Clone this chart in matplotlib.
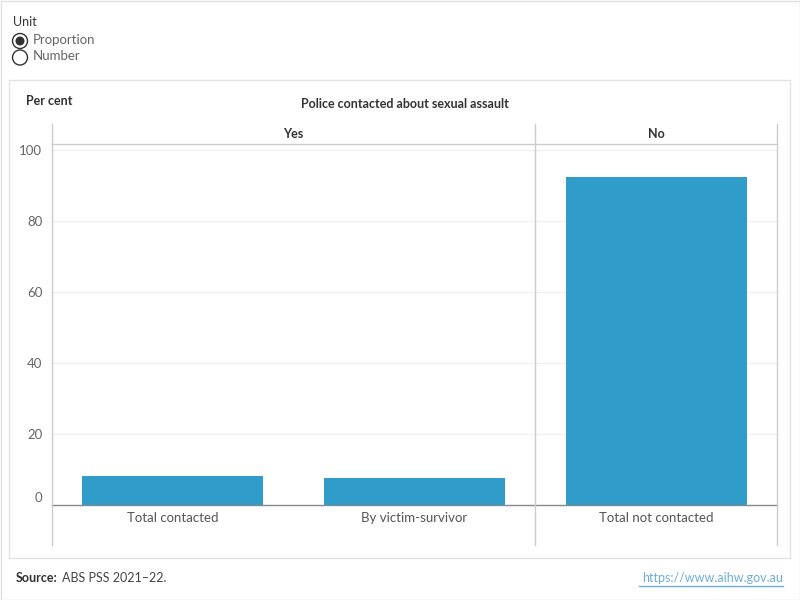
import matplotlib
matplotlib.use("Agg")
import matplotlib.pyplot as plt
import matplotlib.transforms as mtransforms
from matplotlib.lines import Line2D
from matplotlib.patches import Rectangle, Circle

categories = ["Total contacted", "By victim-survivor", "Total not contacted"]
groups = ["Yes", "No"]
group_sizes = [2, 1]
values = [8.2, 7.7, 92.4]
yticks = [0, 20, 40, 60, 80, 100]

W, H = 800, 600
plt.rcParams['font.family'] = ['Lato', 'DejaVu Sans']
fig = plt.figure(figsize=(8, 6), dpi=100)

def fx(px):
    return px / W

def fy(py):
    return 1 - py / H

# outer frame
fig.add_artist(Rectangle((fx(0.5), fy(599.5)), fx(799), 599 / H, transform=fig.transFigure,
                         fill=False, edgecolor="#e0e0e0", lw=1))
# inner panel
fig.add_artist(Rectangle((fx(9), fy(558)), fx(781), 478 / H, transform=fig.transFigure,
                         fill=False, edgecolor="#e3e3e3", lw=1))

# Unit selector
fig.text(fx(13), fy(22), "Unit", fontsize=9, color="#333333", va="center", ha="left")
for i, lab in enumerate(["Proportion", "Number"]):
    cy = 41 + i * 16.5
    fig.add_artist(Circle((20 / 100, (H - cy) / 100), 0.075, transform=fig.dpi_scale_trans,
                          fill=False, edgecolor="#333333", lw=1))
    if i == 0:
        fig.add_artist(Circle((20 / 100, (H - cy) / 100), 0.045, transform=fig.dpi_scale_trans,
                              facecolor="#333333", edgecolor="none"))
    fig.text(fx(33), fy(cy - 1), lab, fontsize=9.5, color="#666666", va="center", ha="left")

# Axes
left, right, top, bottom = 52, 777, 144, 505
ax = fig.add_axes([fx(left), fy(bottom), fx(right - left), (bottom - top) / H])
x = list(range(len(categories)))
ax.bar(x, values, width=0.75, color="#309cca", zorder=3)
px_per_unit = 355.0 / 100
ymax = (bottom - top) / px_per_unit
ax.set_ylim(0, ymax)
ax.set_xlim(-0.5, len(categories) - 0.5)
ax.set_yticks(yticks)
ax.set_yticklabels([str(t) for t in yticks], fontsize=9.5, color="#666666")
ax.set_xticks([])
ax.tick_params(axis="y", length=0, pad=7)
# Tableau nudges the bottom label up
lbl0 = ax.get_yticklabels()[0]
lbl0.set_transform(lbl0.get_transform() + mtransforms.ScaledTranslation(0, 8 / 100, fig.dpi_scale_trans))
for t in yticks[1:]:
    ax.axhline(t, color="#f0f0f0", lw=1, zorder=1)
for s in ["top", "right", "left"]:
    ax.spines[s].set_visible(False)
ax.spines["bottom"].set_color("#888888")
ax.spines["bottom"].set_linewidth(1)
for i, c in enumerate(categories):
    ax.text(i, -3.6, c, ha="center", va="center", fontsize=9.5, color="#555555")

def vline(px, y0, y1, color="#cccccc"):
    fig.add_artist(Line2D([fx(px), fx(px)], [fy(y0), fy(y1)], transform=fig.transFigure,
                          color=color, lw=1))

def hline(py, x0, x1, color="#cccccc"):
    fig.add_artist(Line2D([fx(x0), fx(x1)], [fy(py), fy(py)], transform=fig.transFigure,
                          color=color, lw=1))

vline(left, 124, 545)
cat_w = (right - left) / len(categories)
pos = left
group_edges = [left]
for g in group_sizes:
    pos += g * cat_w
    group_edges.append(pos)
    vline(pos, 124, 545)
hline(top, left, right)

for gi, g in enumerate(groups):
    cx = (group_edges[gi] + group_edges[gi + 1]) / 2
    fig.text(fx(cx), fy(134), g, ha="center", va="center", fontsize=9,
             fontweight="bold", color="#333333")

fig.text(fx(405), fy(104), "Police contacted about sexual assault", ha="center", va="center",
         fontsize=9, fontweight="bold", color="#333333")
fig.text(fx(26), fy(101), "Per cent", ha="left", va="center", fontsize=9,
         fontweight="bold", color="#333333")

# footer
fig.text(fx(16), fy(578), "Source:", ha="left", va="center", fontsize=9,
         fontweight="bold", color="#333333")
fig.text(fx(62), fy(578), "ABS PSS 2021\u201322.", ha="left", va="center", fontsize=9,
         color="#444444")
fig.text(fx(783), fy(578), "https://www.aihw.gov.au", ha="right", va="center",
         fontsize=9, color="#6aaed6")
hline(585.5, 639, 783, color="#6aaed6")

fig.savefig("out.png", dpi=100)
